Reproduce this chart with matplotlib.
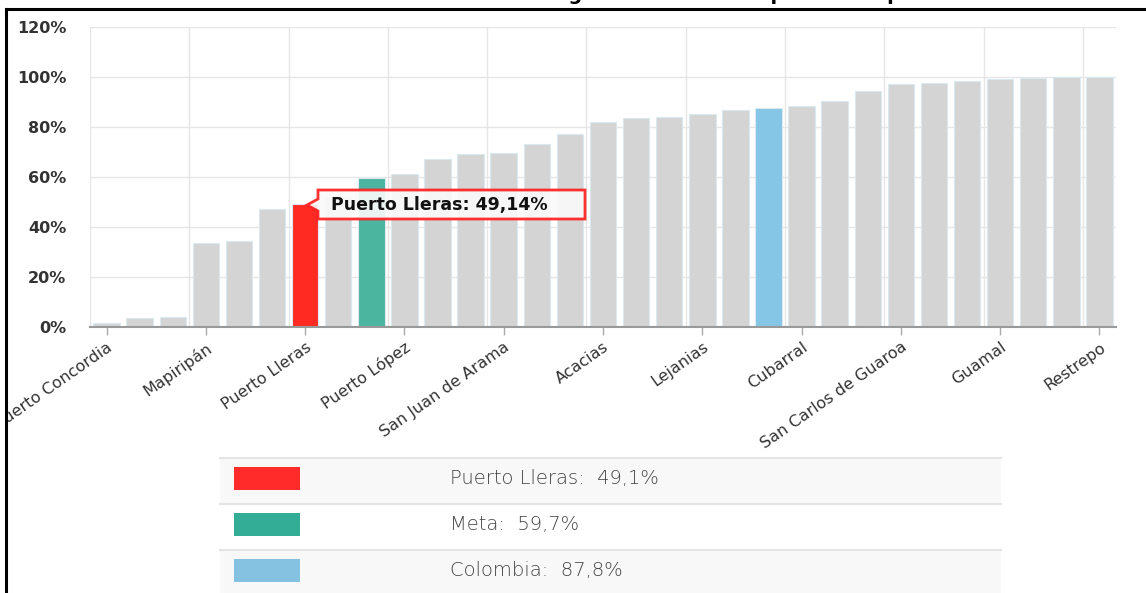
import matplotlib.pyplot as plt
import numpy as np
from matplotlib.patches import Rectangle, Polygon
from matplotlib.lines import Line2D

# coverage per municipality (sorted), Meta and Colombia included
values = [1.6, 3.6, 4.1, 33.8, 34.4, 47.4, 49.14, 52.0, 59.7, 61.2,
          67.2, 69.2, 69.7, 73.3, 77.4, 82.0, 83.8, 84.2, 85.2, 86.9,
          87.8, 88.3, 90.5, 94.6, 97.3, 97.8, 98.6, 99.2, 99.6, 100.0, 100.0]
tick_pos = [0, 3, 6, 9, 12, 15, 18, 21, 24, 27, 30]
tick_labels = ["Puerto Concordia", "Mapiripán", "Puerto Lleras", "Puerto López",
               "San Juan de Arama", "Acacias", "Lejanias", "Cubarral",
               "San Carlos de Guaroa", "Guamal", "Restrepo"]
highlight = {6: "#ff2a22", 8: "#4bb5a0", 20: "#85c6e6"}
legend_names = ["Puerto Lleras", "Meta", "Colombia"]
legend_values = ["49,1%", "59,7%", "87,8%"]
legend_colors = ["#ff2a2a", "#33ad96", "#85c1e0"]
tooltip_text = "Puerto Lleras: 49,14%"

W, H = 1146, 593
fig = plt.figure(figsize=(W / 100, H / 100), dpi=100)
ax = fig.add_axes([90 / W, 1 - 327 / H, 1026 / W, 300 / H])

x = np.arange(len(values))
colors = [highlight.get(i, "#d4d4d4") for i in x]
ax.bar(x, values, width=0.8, color=colors, edgecolor="#dce8ef", linewidth=0.8, zorder=2)

ax.set_xlim(-0.5, len(values) - 0.5)
ax.set_ylim(0, 120)
ax.set_yticks(range(0, 121, 20))
ax.set_yticklabels([f"{v}%" for v in range(0, 121, 20)], color="#333333",
                   fontsize=11.5, fontweight="bold")
ax.tick_params(axis="y", length=0, pad=17)
ax.grid(axis="y", color="#e6e6e6", linewidth=1, zorder=0)
for g in range(0, len(values), 3):
    ax.axvline(g - 0.5, color="#e6e6e6", linewidth=1, zorder=0)

ax.set_xticks(tick_pos)
ax.set_xticklabels(tick_labels, rotation=35, ha="right", va="top",
                   rotation_mode="anchor", fontsize=11.5, color="#333333")
ax.tick_params(axis="x", length=6, color="#aaaaaa", width=1, pad=3)
for s in ["top", "right", "left"]:
    ax.spines[s].set_visible(False)
ax.spines["bottom"].set_color("#999999")
ax.spines["bottom"].set_linewidth(1.5)
ax.spines["bottom"].set_zorder(3)

# tooltip box with pointer (figure pixel coords)
def fx(px):
    return px / W

def fy(py):
    return 1 - py / H

tip = Polygon([(fx(318), fy(190)), (fx(585), fy(190)), (fx(585), fy(219)),
               (fx(318), fy(219)), (fx(318), fy(211)), (fx(307), fy(205)),
               (fx(318), fy(199))], closed=True, transform=fig.transFigure,
              facecolor="#fafafa", alpha=0.92, edgecolor="#ff2020", linewidth=2, zorder=10)
fig.add_artist(tip)
fig.text(fx(331), fy(204.5), tooltip_text, fontsize=12.5, fontweight="bold",
         color="#111111", va="center", ha="left", zorder=11)

# legend table
rows = [(458, 504), (504, 550), (550, 596)]
for i, (y0, y1) in enumerate(rows):
    bg = "#f8f8f8" if i != 1 else "#ffffff"
    fig.add_artist(Rectangle((fx(220), fy(y1)), fx(1001) - fx(220), (y1 - y0) / H,
                             transform=fig.transFigure, facecolor=bg, edgecolor="none"))
    fig.add_artist(Line2D([fx(220), fx(1001)], [fy(y0), fy(y0)], transform=fig.transFigure,
                          color="#e4e4e4", linewidth=1.5))
    fig.add_artist(Rectangle((fx(234), fy(y0 + 32)), 66 / W, 23 / H, transform=fig.transFigure,
                             facecolor=legend_colors[i], edgecolor="none"))
    fig.text(fx(450), fy(y0 + 21), f"{legend_names[i]}:  {legend_values[i]}",
             fontsize=14, color="#444444", family="DejaVu Sans", fontweight="light",
             va="center", ha="left")

# clipped title and figure border
fig.text(0.512, fy(0.5), "Gráfico 8. Cobertura de energía eléctrica rural por municipio",
         fontsize=14, fontweight="bold", color="black", ha="center", va="baseline")
fig.add_artist(Rectangle((0, 0), fx(6), 1, transform=fig.transFigure,
                         facecolor="white", edgecolor="none", zorder=20))
fig.add_artist(Line2D([fx(6), 1], [fy(9), fy(9)], transform=fig.transFigure,
                      color="black", linewidth=2.2, zorder=21))
fig.add_artist(Line2D([fx(6), fx(6)], [fy(9), 0], transform=fig.transFigure,
                      color="black", linewidth=2.2, zorder=21))

fig.savefig("out.png", dpi=100)
